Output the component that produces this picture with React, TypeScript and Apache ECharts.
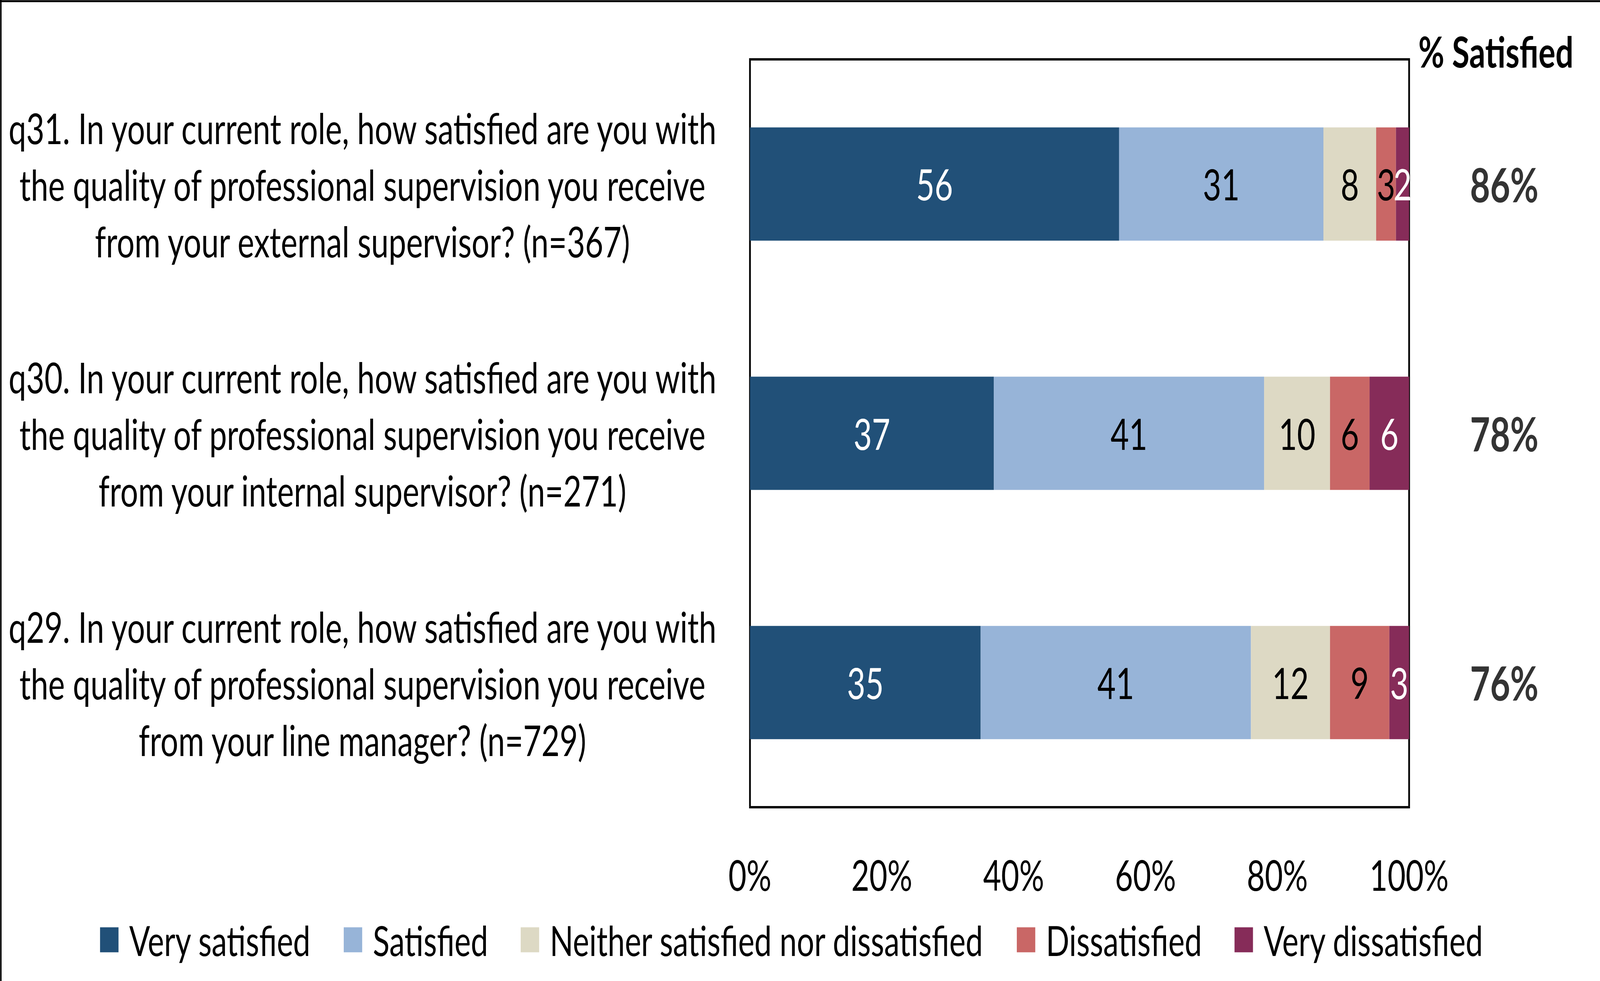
import React, { useEffect, useRef } from "react";
import * as echarts from "echarts";

const categories = [
  "q31. In your current role, how satisfied are you with\nthe quality of professional supervision you receive\nfrom your external supervisor? (n=367)",
  "q30. In your current role, how satisfied are you with\nthe quality of professional supervision you receive\nfrom your internal supervisor? (n=271)",
  "q29. In your current role, how satisfied are you with\nthe quality of professional supervision you receive\nfrom your line manager? (n=729)",
];

const seriesNames = [
  "Very satisfied",
  "Satisfied",
  "Neither satisfied nor dissatisfied",
  "Dissatisfied",
  "Very dissatisfied",
];

const verySatisfied = [56, 37, 35];
const satisfied = [31, 41, 41];
const neither = [8, 10, 12];
const dissatisfied = [3, 6, 9];
const veryDissatisfied = [2, 6, 3];

const satisfiedPct = [86, 78, 76];

const xTicks = [0, 20, 40, 60, 80, 100];

const seriesColors = ["#215078", "#97B4D8", "#DDD9C4", "#C96766", "#862C59"];
const labelColors = ["#FFFFFF", "#000000", "#000000", "#000000", "#FFFFFF"];

const FONT = "Lato, 'Open Sans', sans-serif";
const REF_W = 5549;
const REF_H = 2512;

export default function App() {
  const ref = useRef<HTMLDivElement>(null);
  const W = typeof window !== "undefined" ? window.innerWidth : REF_W;
  const H = typeof window !== "undefined" ? window.innerHeight : REF_H;

  useEffect(() => {
    if (!ref.current) return;
    const chart = echarts.init(ref.current, null, { renderer: "svg" });
    const values = [verySatisfied, satisfied, neither, dissatisfied, veryDissatisfied];

    const barSeries = values.map((data, i) => ({
      name: seriesNames[i],
      type: "bar",
      stack: "total",
      barWidth: 290,
      data,
      itemStyle: { color: seriesColors[i] },
      label: {
        show: true,
        position: "inside",
        formatter: "{c}",
        color: labelColors[i],
        fontSize: 110,
        fontFamily: FONT,
      },
      emphasis: { disabled: true },
    }));

    chart.setOption({
      animation: false,
      backgroundColor: "#FFFFFF",
      textStyle: { fontFamily: FONT },
      grid: [
        {
          left: 2601,
          right: 662,
          top: 152,
          bottom: 445,
          show: true,
          borderColor: "#000000",
          borderWidth: 6,
          backgroundColor: "transparent",
        },
        { left: 5050, width: 334, top: 152, bottom: 445 },
      ],
      xAxis: [
        {
          type: "value",
          min: xTicks[0],
          max: xTicks[xTicks.length - 1],
          interval: xTicks[1] - xTicks[0],
          axisLine: { show: false },
          axisTick: { show: false },
          splitLine: { show: false },
          axisLabel: {
            formatter: "{value}%",
            margin: 118,
            fontSize: 108,
            color: "#000000",
            fontFamily: FONT,
          },
        },
        { type: "value", gridIndex: 1, min: -1, max: 1, show: false },
      ],
      yAxis: [
        {
          type: "category",
          inverse: true,
          data: categories,
          axisLine: { show: false },
          axisTick: { show: false },
          axisLabel: {
            margin: 1344,
            align: "center",
            fontSize: 109,
            lineHeight: 145,
            color: "#000000",
            fontFamily: FONT,
          },
        },
        {
          type: "category",
          gridIndex: 1,
          inverse: true,
          data: categories,
          show: false,
        },
      ],
      legend: {
        data: seriesNames,
        left: 347,
        top: 2353,
        padding: 0,
        icon: "rect",
        itemWidth: 64,
        itemHeight: 64,
        itemGap: 113,
        selectedMode: false,
        textStyle: {
          fontSize: 107,
          lineHeight: 107,
          color: "#000000",
          fontFamily: FONT,
          padding: [0, 0, 0, 32],
        },
      },
      series: [
        ...barSeries,
        {
          name: "% Satisfied",
          type: "scatter",
          xAxisIndex: 1,
          yAxisIndex: 1,
          symbolSize: 1,
          itemStyle: { color: "transparent" },
          data: satisfiedPct.map((v, i) => [0, i, v]),
          label: {
            show: true,
            position: "inside",
            formatter: (p: any) => `${p.value[2]}%`,
            fontSize: 120,
            fontWeight: "bold",
            color: "#000000",
            fontFamily: FONT,
          },
          emphasis: { disabled: true },
        },
      ],
      graphic: [
        {
          type: "text",
          x: 5188,
          y: 131,
          style: {
            text: "% Satisfied",
            fontSize: 110,
            fontWeight: "bold",
            fill: "#000000",
            fontFamily: FONT,
            align: "center",
            verticalAlign: "middle",
          },
        },
        {
          type: "line",
          shape: { x1: 3, y1: 0, x2: 3, y2: REF_H },
          style: { stroke: "#000000", lineWidth: 5 },
        },
        {
          type: "line",
          shape: { x1: 0, y1: 3, x2: REF_W, y2: 3 },
          style: { stroke: "#000000", lineWidth: 5 },
        },
      ],
    });

    return () => chart.dispose();
  }, []);

  return (
    <div
      style={{
        position: "fixed",
        left: 0,
        top: 0,
        width: W,
        height: H,
        overflow: "hidden",
      }}
    >
      <div
        ref={ref}
        style={{
          width: REF_W,
          height: REF_H,
          transform: `scale(${W / REF_W}, ${H / REF_H})`,
          transformOrigin: "0 0",
        }}
      />
    </div>
  );
}
